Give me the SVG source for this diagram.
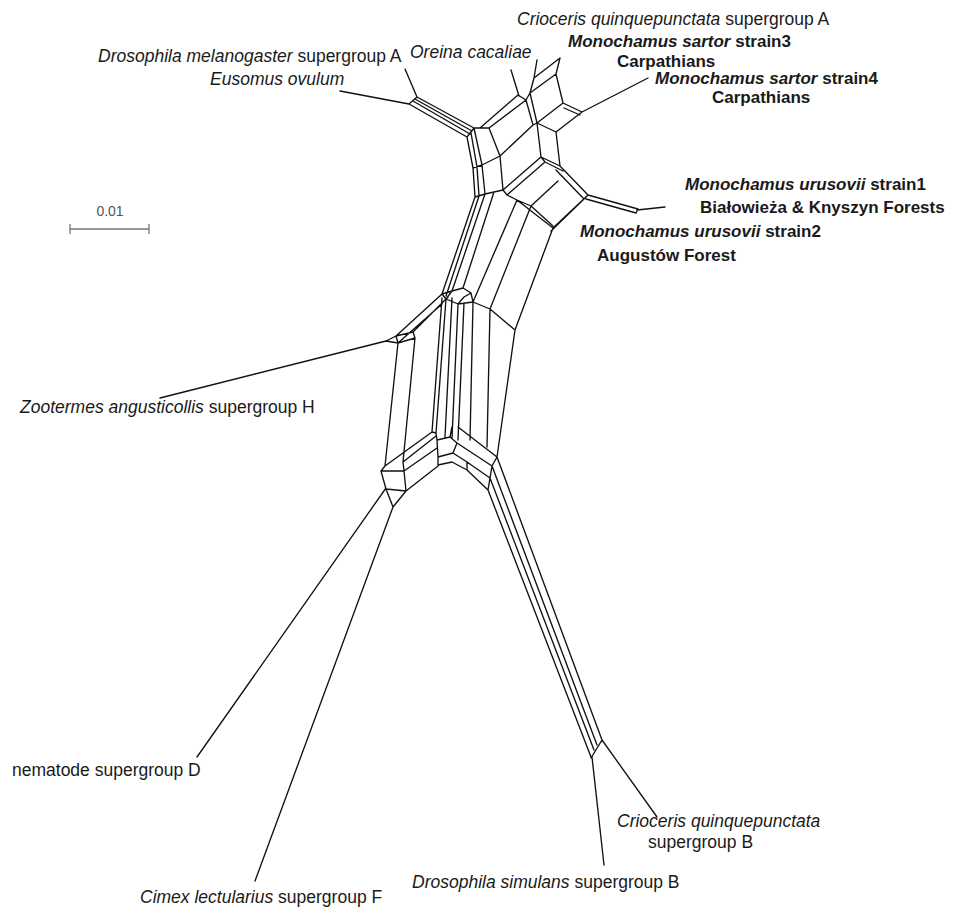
<svg xmlns="http://www.w3.org/2000/svg" width="954" height="913" viewBox="0 0 954 913">
<style>
.net{fill:none;stroke:#111;stroke-width:1.35;stroke-linejoin:round;stroke-linecap:round}
.lbl{font-family:"Liberation Sans",Arial,sans-serif;font-size:17.5px;fill:#1a1a1a}
.it{font-style:italic}
.b{font-weight:bold;font-size:17px}
.scale{fill:none;stroke:#777;stroke-width:1.3}
.stxt{font-family:"Liberation Sans",Arial,sans-serif;font-size:14px;fill:#555}
</style>
<rect width="954" height="913" fill="#fff"/>
<g id="connectors" class="net">
<path d="M340,91 L409,104 M405,69 L417,97 M417,97 L409,104
M417,97 L474,128 M415,99 L472,131 M413,101 L470,134 M409,104 L467,137 M474,128 L467,137
M467,137 L473,168 L475,197 M471,133 L477,167 L479,196 M474,128 L482,165 L485,194 M489,128 L500,156 L503,190
M474,128 L489,128 M473,168 L482,165 L500,156 M475,197 L485,194 L503,190
M480,128 L518,95 M489,128 L526,100 M518,95 L526,100 M511,70 L519,96
M537,60 L534,78 L530,93 M526,100 L530,93 M560,58 L534,78 M560,58 L556,74 M556,74 L530,93 M556,74 L563,103
M563,103 L537,123 M530,93 L537,123 M526,100 L533,125 L537,123
M563,103 L582,112 M564,108 L580,115 M537,123 L556,132 M582,112 L556,132 M582,112 L648,78
M500,156 L533,125 M537,123 L541,157 M556,132 L560,166 M541,157 L560,166 M503,190 L541,157
M507,195 L545,162 M541,157 L545,162 M545,162 L563,171
M560,166 L588,195 M556,170 L584,199 M584,199 L588,195
M588,195 L638,209 M586,199 L636,213 M638,209 L636,213 M637,210 L665,207
M588,195 L553,228 M584,199 L551,231
M503,190 L507,195 L517,200 L553,228 M517,200 L531,206 L553,226 M531,206 L558,181
M475,197 L442,294 M479,196 L446,296 M485,194 L452,291 M494,192 L463,288
M517,200 L473,302 M531,206 L490,309 M553,228 L515,330 M473,302 L490,309 L515,330
M442,294 L452,291 L463,288 L471,293 L473,302 L458,304 L446,299 L442,294 M446,299 L452,291 M471,293 L464,297 L458,304
M442,298 L432,432 M446,299 L436,433 M452,298 L445,437 M458,304 L452,438 M464,303 L458,440 M473,302 L470,440 M490,309 L487,447 M515,330 L497,457
M458,427 L497,457
M436,433 L437,440 L438,457 L438,465 M432,432 L436,433
M437,440 L450,437 L457,443 L453,453 L438,457 M450,437 L452,427
M457,443 L492,466 M453,453 L467,462 L490,478 M438,465 L452,462 L467,470 L488,490 M467,462 L467,470
M497,457 L492,466 L490,478 L488,490
M497,457 L602,740 M492,466 L597,745 M490,478 L594,750 M488,490 L591,757 M602,740 L591,758
M602,740 L657,817 M592,757 L604,865
M442,294 L396,336 M448,297 L413,332 M442,304 L398,343
M386,341 L396,336 L413,332 L415,338 L398,343 L386,341 M396,336 L398,343
M386,341 L160,398
M398,343 L385,466 M415,338 L403,462
M432,432 L385,466 M436,436 L403,462
M385,466 L381,471 L386,489 L393,507 M403,462 L404,471 L406,491 L393,507 M381,471 L404,471 M386,489 L406,491
M404,471 L437,448 M406,491 L438,466
M386,488 L197,757 M393,507 L255,881"/>
</g>
<g id="scalebar">
<path class="scale" d="M70,229 L149,229 M70,224 L70,234 M149,224 L149,234"/>
<text class="stxt" x="110" y="216" text-anchor="middle">0.01</text>
</g>
<g id="t-crioA"><text class="lbl" x="517" y="25"><tspan class="it">Crioceris quinquepunctata</tspan> supergroup A</text></g>
<g id="t-dmel"><text class="lbl" x="98" y="62"><tspan class="it">Drosophila melanogaster</tspan> supergroup A</text></g>
<g id="t-oreina"><text class="lbl it" x="410" y="58">Oreina cacaliae</text></g>
<g id="t-sartor3"><text class="lbl b" x="568" y="47"><tspan class="it">Monochamus sartor</tspan> strain3</text><text class="lbl b" x="617" y="67">Carpathians</text></g>
<g id="t-sartor4"><text class="lbl b" x="655" y="84"><tspan class="it">Monochamus sartor</tspan> strain4</text><text class="lbl b" x="712" y="103">Carpathians</text></g>
<g id="t-eusomus"><text class="lbl it" x="210" y="85">Eusomus ovulum</text></g>
<g id="t-urus1"><text class="lbl b" x="685" y="190"><tspan class="it">Monochamus urusovii</tspan> strain1</text><text class="lbl b" x="700" y="213">Białowieża &amp; Knyszyn Forests</text></g>
<g id="t-urus2"><text class="lbl b" x="580" y="237"><tspan class="it">Monochamus urusovii</tspan> strain2</text><text class="lbl b" x="597" y="261">Augustów Forest</text></g>
<g id="t-zoot"><text class="lbl" x="20" y="413"><tspan class="it">Zootermes angusticollis</tspan> supergroup H</text></g>
<g id="t-nema"><text class="lbl" x="12" y="776">nematode supergroup D</text></g>
<g id="t-crioB"><text class="lbl it" x="617" y="827">Crioceris quinquepunctata</text><text class="lbl" x="648" y="848">supergroup B</text></g>
<g id="t-dsim"><text class="lbl" x="412" y="888"><tspan class="it">Drosophila simulans</tspan> supergroup B</text></g>
<g id="t-cimex"><text class="lbl" x="140" y="903"><tspan class="it">Cimex lectularius</tspan> supergroup F</text></g>
</svg>
